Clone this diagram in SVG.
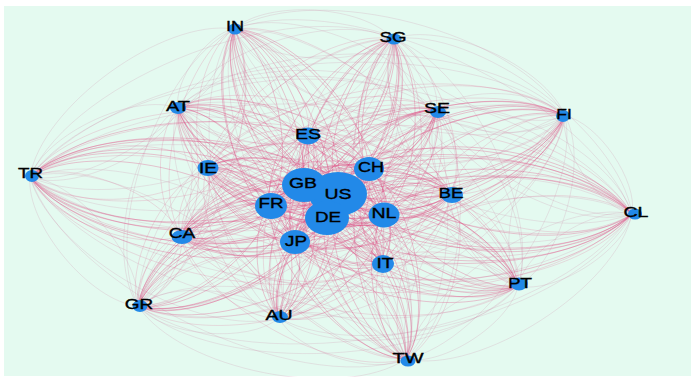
<svg xmlns="http://www.w3.org/2000/svg" width="691" height="377" viewBox="0 0 691 377">
<style>
.bg{fill:#e4faf0}
#edges use{fill:none}
.a{stroke:#e0467f;stroke-opacity:.42;stroke-width:.75}
.b{stroke:#dc5f8f;stroke-opacity:.36;stroke-width:.6}
.c{stroke:#c884a4;stroke-opacity:.38;stroke-width:.55}
.n{fill:#2289e8}
.t{font-family:"Liberation Sans",Arial,sans-serif;font-size:14px;fill:#000;stroke:#000;stroke-width:.35;text-anchor:middle}
</style>
<defs>
<path id="c" d="M0,0C.2,.2 .8,.2 1,0" fill="none" vector-effect="non-scaling-stroke"/>
<path id="r" d="M0,0C.2,-.2 .8,-.2 1,0" fill="none" vector-effect="non-scaling-stroke"/>
</defs>
<rect width="691" height="377" fill="#fff"/>
<rect class="bg" x="4" y="6" width="687" height="370"/>
<g id="edges">
<use href="#c" class="a" transform="matrix(248,-1,1,248,384,215)"/>
<use href="#c" class="c" transform="matrix(114,-72,72,114,518,286)"/>
<use href="#c" class="b" transform="matrix(250,-49,49,250,382,263)"/>
<use href="#c" class="c" transform="matrix(226,-145,145,226,406,359)"/>
<use href="#c" class="a" transform="matrix(306,-2,2,306,326,216)"/>
<use href="#c" class="c" transform="matrix(353,-104,104,353,279,318)"/>
<use href="#c" class="a" transform="matrix(338,-28,28,338,294,242)"/>
<use href="#c" class="c" transform="matrix(494,-92,92,494,138,306)"/>
<use href="#c" class="b" transform="matrix(451,-21,21,451,181,235)"/>
<use href="#c" class="a" transform="matrix(362,10,-10,362,270,204)"/>
<use href="#c" class="c" transform="matrix(-602,-37,37,-602,632,214)"/>
<use href="#c" class="b" transform="matrix(-425,-46,46,-425,632,214)"/>
<use href="#c" class="c" transform="matrix(-454,-106,106,-454,632,214)"/>
<use href="#c" class="a" transform="matrix(-327,-30,30,-327,632,214)"/>
<use href="#c" class="c" transform="matrix(-398,-185,185,-398,632,214)"/>
<use href="#c" class="b" transform="matrix(-324,-80,80,-324,632,214)"/>
<use href="#c" class="c" transform="matrix(-239,-175,175,-239,632,214)"/>
<use href="#c" class="a" transform="matrix(-294,-22,22,-294,632,214)"/>
<use href="#c" class="c" transform="matrix(-196,-104,104,-196,632,214)"/>
<use href="#c" class="a" transform="matrix(-264,-46,46,-264,632,214)"/>
<use href="#c" class="c" transform="matrix(-67,-98,98,-67,632,214)"/>
<use href="#c" class="b" transform="matrix(-181,-21,21,-181,632,214)"/>
<use href="#c" class="a" transform="matrix(-134,-71,71,-134,518,286)"/>
<use href="#c" class="a" transform="matrix(2,-48,48,2,382,263)"/>
<use href="#c" class="a" transform="matrix(-22,-144,144,-22,406,359)"/>
<use href="#c" class="a" transform="matrix(58,-1,1,58,326,216)"/>
<use href="#c" class="a" transform="matrix(105,-103,103,105,279,318)"/>
<use href="#c" class="a" transform="matrix(90,-27,27,90,294,242)"/>
<use href="#c" class="a" transform="matrix(246,-91,91,246,138,306)"/>
<use href="#c" class="a" transform="matrix(203,-20,20,203,181,235)"/>
<use href="#c" class="a" transform="matrix(114,11,-11,114,270,204)"/>
<use href="#c" class="a" transform="matrix(354,38,-38,354,30,177)"/>
<use href="#c" class="a" transform="matrix(177,47,-47,177,207,168)"/>
<use href="#c" class="a" transform="matrix(-206,-107,107,-206,384,215)"/>
<use href="#c" class="a" transform="matrix(-79,-31,31,-79,384,215)"/>
<use href="#c" class="a" transform="matrix(-150,-186,186,-150,384,215)"/>
<use href="#c" class="a" transform="matrix(-76,-81,81,-76,384,215)"/>
<use href="#c" class="a" transform="matrix(9,-176,176,9,384,215)"/>
<use href="#c" class="a" transform="matrix(-46,-23,23,-46,384,215)"/>
<use href="#c" class="a" transform="matrix(52,-105,105,52,384,215)"/>
<use href="#c" class="a" transform="matrix(-16,-47,47,-16,384,215)"/>
<use href="#c" class="a" transform="matrix(181,-99,99,181,384,215)"/>
<use href="#c" class="a" transform="matrix(67,-22,22,67,384,215)"/>
<use href="#c" class="b" transform="matrix(136,23,-23,136,382,263)"/>
<use href="#c" class="c" transform="matrix(112,-73,73,112,406,359)"/>
<use href="#c" class="a" transform="matrix(192,70,-70,192,326,216)"/>
<use href="#c" class="c" transform="matrix(239,-32,32,239,279,318)"/>
<use href="#c" class="a" transform="matrix(224,44,-44,224,294,242)"/>
<use href="#c" class="c" transform="matrix(380,-20,20,380,138,306)"/>
<use href="#c" class="b" transform="matrix(337,51,-51,337,181,235)"/>
<use href="#c" class="a" transform="matrix(248,82,-82,248,270,204)"/>
<use href="#c" class="c" transform="matrix(488,109,-109,488,30,177)"/>
<use href="#c" class="b" transform="matrix(311,118,-118,311,207,168)"/>
<use href="#c" class="c" transform="matrix(-340,-178,178,-340,518,286)"/>
<use href="#c" class="a" transform="matrix(-213,-102,102,-213,518,286)"/>
<use href="#c" class="c" transform="matrix(-284,-257,257,-284,518,286)"/>
<use href="#c" class="b" transform="matrix(-210,-152,152,-210,518,286)"/>
<use href="#c" class="c" transform="matrix(-125,-247,247,-125,518,286)"/>
<use href="#c" class="a" transform="matrix(-180,-94,94,-180,518,286)"/>
<use href="#c" class="c" transform="matrix(-82,-176,176,-82,518,286)"/>
<use href="#c" class="a" transform="matrix(-150,-118,118,-150,518,286)"/>
<use href="#c" class="c" transform="matrix(47,-170,170,47,518,286)"/>
<use href="#c" class="b" transform="matrix(-67,-93,93,-67,518,286)"/>
<use href="#c" class="b" transform="matrix(-24,-96,96,-24,406,359)"/>
<use href="#c" class="a" transform="matrix(56,47,-47,56,326,216)"/>
<use href="#c" class="b" transform="matrix(103,-55,55,103,279,318)"/>
<use href="#c" class="a" transform="matrix(88,21,-21,88,294,242)"/>
<use href="#c" class="b" transform="matrix(244,-43,43,244,138,306)"/>
<use href="#c" class="b" transform="matrix(201,28,-28,201,181,235)"/>
<use href="#c" class="a" transform="matrix(112,59,-59,112,270,204)"/>
<use href="#c" class="b" transform="matrix(352,86,-86,352,30,177)"/>
<use href="#c" class="b" transform="matrix(175,95,-95,175,207,168)"/>
<use href="#c" class="b" transform="matrix(204,155,-155,204,178,108)"/>
<use href="#c" class="a" transform="matrix(77,79,-79,77,305,184)"/>
<use href="#c" class="b" transform="matrix(-148,-234,234,-148,382,263)"/>
<use href="#c" class="b" transform="matrix(-74,-129,129,-74,382,263)"/>
<use href="#c" class="b" transform="matrix(11,-224,224,11,382,263)"/>
<use href="#c" class="a" transform="matrix(-44,-71,71,-44,382,263)"/>
<use href="#c" class="b" transform="matrix(54,-153,153,54,382,263)"/>
<use href="#c" class="a" transform="matrix(-14,-95,95,-14,382,263)"/>
<use href="#c" class="b" transform="matrix(183,-147,147,183,382,263)"/>
<use href="#c" class="b" transform="matrix(69,-70,70,69,382,263)"/>
<use href="#c" class="a" transform="matrix(80,143,-143,80,326,216)"/>
<use href="#c" class="c" transform="matrix(127,41,-41,127,279,318)"/>
<use href="#c" class="a" transform="matrix(112,117,-117,112,294,242)"/>
<use href="#c" class="c" transform="matrix(268,53,-53,268,138,306)"/>
<use href="#c" class="b" transform="matrix(225,124,-124,225,181,235)"/>
<use href="#c" class="a" transform="matrix(136,155,-155,136,270,204)"/>
<use href="#c" class="c" transform="matrix(376,182,-182,376,30,177)"/>
<use href="#c" class="b" transform="matrix(199,191,-191,199,207,168)"/>
<use href="#c" class="c" transform="matrix(228,251,-251,228,178,108)"/>
<use href="#c" class="a" transform="matrix(101,175,-175,101,305,184)"/>
<use href="#c" class="c" transform="matrix(172,330,-330,172,234,29)"/>
<use href="#c" class="b" transform="matrix(-98,-225,225,-98,406,359)"/>
<use href="#c" class="c" transform="matrix(-13,-320,320,-13,406,359)"/>
<use href="#c" class="a" transform="matrix(-68,-167,167,-68,406,359)"/>
<use href="#c" class="c" transform="matrix(30,-249,249,30,406,359)"/>
<use href="#c" class="a" transform="matrix(-38,-191,191,-38,406,359)"/>
<use href="#c" class="c" transform="matrix(159,-243,243,159,406,359)"/>
<use href="#c" class="b" transform="matrix(45,-166,166,45,406,359)"/>
<use href="#c" class="a" transform="matrix(47,-102,102,47,279,318)"/>
<use href="#c" class="a" transform="matrix(32,-26,26,32,294,242)"/>
<use href="#c" class="a" transform="matrix(188,-90,90,188,138,306)"/>
<use href="#c" class="a" transform="matrix(145,-19,19,145,181,235)"/>
<use href="#c" class="a" transform="matrix(56,12,-12,56,270,204)"/>
<use href="#c" class="a" transform="matrix(296,39,-39,296,30,177)"/>
<use href="#c" class="a" transform="matrix(119,48,-48,119,207,168)"/>
<use href="#c" class="a" transform="matrix(148,108,-108,148,178,108)"/>
<use href="#c" class="a" transform="matrix(21,32,-32,21,305,184)"/>
<use href="#c" class="a" transform="matrix(92,187,-187,92,234,29)"/>
<use href="#c" class="a" transform="matrix(18,82,-82,18,308,134)"/>
<use href="#c" class="a" transform="matrix(67,-177,177,67,326,216)"/>
<use href="#c" class="a" transform="matrix(12,-24,24,12,326,216)"/>
<use href="#c" class="a" transform="matrix(110,-106,106,110,326,216)"/>
<use href="#c" class="a" transform="matrix(42,-48,48,42,326,216)"/>
<use href="#c" class="a" transform="matrix(239,-100,100,239,326,216)"/>
<use href="#c" class="a" transform="matrix(125,-23,23,125,326,216)"/>
<use href="#c" class="a" transform="matrix(-15,76,-76,-15,294,242)"/>
<use href="#c" class="c" transform="matrix(141,12,-12,141,138,306)"/>
<use href="#c" class="b" transform="matrix(98,83,-83,98,181,235)"/>
<use href="#c" class="a" transform="matrix(9,114,-114,9,270,204)"/>
<use href="#c" class="c" transform="matrix(249,141,-141,249,30,177)"/>
<use href="#c" class="b" transform="matrix(72,150,-150,72,207,168)"/>
<use href="#c" class="c" transform="matrix(101,210,-210,101,178,108)"/>
<use href="#c" class="a" transform="matrix(-26,134,-134,-26,305,184)"/>
<use href="#c" class="c" transform="matrix(45,289,-289,45,234,29)"/>
<use href="#c" class="b" transform="matrix(-29,184,-184,-29,308,134)"/>
<use href="#c" class="c" transform="matrix(-114,279,-279,-114,393,39)"/>
<use href="#c" class="a" transform="matrix(59,-126,126,59,279,318)"/>
<use href="#c" class="c" transform="matrix(157,-208,208,157,279,318)"/>
<use href="#c" class="a" transform="matrix(89,-150,150,89,279,318)"/>
<use href="#c" class="c" transform="matrix(286,-202,202,286,279,318)"/>
<use href="#c" class="b" transform="matrix(172,-125,125,172,279,318)"/>
<use href="#c" class="a" transform="matrix(156,-64,64,156,138,306)"/>
<use href="#c" class="a" transform="matrix(113,7,-7,113,181,235)"/>
<use href="#c" class="a" transform="matrix(24,38,-38,24,270,204)"/>
<use href="#c" class="a" transform="matrix(264,65,-65,264,30,177)"/>
<use href="#c" class="a" transform="matrix(87,74,-74,87,207,168)"/>
<use href="#c" class="a" transform="matrix(116,134,-134,116,178,108)"/>
<use href="#c" class="a" transform="matrix(-11,58,-58,-11,305,184)"/>
<use href="#c" class="a" transform="matrix(60,213,-213,60,234,29)"/>
<use href="#c" class="a" transform="matrix(-14,108,-108,-14,308,134)"/>
<use href="#c" class="a" transform="matrix(-99,203,-203,-99,393,39)"/>
<use href="#c" class="a" transform="matrix(44,-50,50,44,294,242)"/>
<use href="#c" class="a" transform="matrix(142,-132,132,142,294,242)"/>
<use href="#c" class="a" transform="matrix(74,-74,74,74,294,242)"/>
<use href="#c" class="a" transform="matrix(271,-126,126,271,294,242)"/>
<use href="#c" class="a" transform="matrix(157,-49,49,157,294,242)"/>
<use href="#c" class="b" transform="matrix(-43,71,-71,-43,181,235)"/>
<use href="#c" class="a" transform="matrix(-132,102,-102,-132,270,204)"/>
<use href="#c" class="c" transform="matrix(108,129,-129,108,30,177)"/>
<use href="#c" class="b" transform="matrix(-69,138,-138,-69,207,168)"/>
<use href="#c" class="c" transform="matrix(-40,198,-198,-40,178,108)"/>
<use href="#c" class="a" transform="matrix(-167,122,-122,-167,305,184)"/>
<use href="#c" class="c" transform="matrix(-96,277,-277,-96,234,29)"/>
<use href="#c" class="b" transform="matrix(-170,172,-172,-170,308,134)"/>
<use href="#c" class="c" transform="matrix(-255,267,-267,-255,393,39)"/>
<use href="#c" class="a" transform="matrix(-200,114,-114,-200,338,192)"/>
<use href="#c" class="c" transform="matrix(-298,196,-196,-298,436,110)"/>
<use href="#c" class="a" transform="matrix(-230,138,-138,-230,368,168)"/>
<use href="#c" class="c" transform="matrix(427,-190,190,427,138,306)"/>
<use href="#c" class="b" transform="matrix(313,-113,113,313,138,306)"/>
<use href="#c" class="a" transform="matrix(-89,31,-31,-89,270,204)"/>
<use href="#c" class="b" transform="matrix(151,58,-58,151,30,177)"/>
<use href="#c" class="b" transform="matrix(-26,67,-67,-26,207,168)"/>
<use href="#c" class="b" transform="matrix(3,127,-127,3,178,108)"/>
<use href="#c" class="a" transform="matrix(-124,51,-51,-124,305,184)"/>
<use href="#c" class="b" transform="matrix(-53,206,-206,-53,234,29)"/>
<use href="#c" class="b" transform="matrix(-127,101,-101,-127,308,134)"/>
<use href="#c" class="b" transform="matrix(-212,196,-196,-212,393,39)"/>
<use href="#c" class="a" transform="matrix(-157,43,-43,-157,338,192)"/>
<use href="#c" class="b" transform="matrix(-255,125,-125,-255,436,110)"/>
<use href="#c" class="a" transform="matrix(-187,67,-67,-187,368,168)"/>
<use href="#c" class="b" transform="matrix(-384,119,-119,-384,565,116)"/>
<use href="#c" class="b" transform="matrix(270,-42,42,270,181,235)"/>
<use href="#c" class="a" transform="matrix(240,27,-27,240,30,177)"/>
<use href="#c" class="a" transform="matrix(63,36,-36,63,207,168)"/>
<use href="#c" class="a" transform="matrix(92,96,-96,92,178,108)"/>
<use href="#c" class="a" transform="matrix(-35,20,-20,-35,305,184)"/>
<use href="#c" class="a" transform="matrix(36,175,-175,36,234,29)"/>
<use href="#c" class="a" transform="matrix(-38,70,-70,-38,308,134)"/>
<use href="#c" class="a" transform="matrix(-123,165,-165,-123,393,39)"/>
<use href="#c" class="a" transform="matrix(-68,12,-12,-68,338,192)"/>
<use href="#c" class="a" transform="matrix(-166,94,-94,-166,436,110)"/>
<use href="#c" class="a" transform="matrix(-98,36,-36,-98,368,168)"/>
<use href="#c" class="a" transform="matrix(-295,88,-88,-295,565,116)"/>
<use href="#c" class="a" transform="matrix(181,-11,11,181,270,204)"/>
<use href="#c" class="b" transform="matrix(-177,9,-9,-177,207,168)"/>
<use href="#c" class="c" transform="matrix(-148,69,-69,-148,178,108)"/>
<use href="#c" class="a" transform="matrix(-275,-7,7,-275,305,184)"/>
<use href="#c" class="c" transform="matrix(-204,148,-148,-204,234,29)"/>
<use href="#c" class="b" transform="matrix(-278,43,-43,-278,308,134)"/>
<use href="#c" class="c" transform="matrix(-363,138,-138,-363,393,39)"/>
<use href="#c" class="a" transform="matrix(-308,-15,15,-308,338,192)"/>
<use href="#c" class="c" transform="matrix(-406,67,-67,-406,436,110)"/>
<use href="#c" class="a" transform="matrix(-338,9,-9,-338,368,168)"/>
<use href="#c" class="c" transform="matrix(-535,61,-61,-535,565,116)"/>
<use href="#c" class="b" transform="matrix(-421,-16,16,-421,451,193)"/>
<use href="#c" class="b" transform="matrix(29,60,-60,29,178,108)"/>
<use href="#c" class="a" transform="matrix(-98,-16,16,-98,305,184)"/>
<use href="#c" class="b" transform="matrix(-27,139,-139,-27,234,29)"/>
<use href="#c" class="b" transform="matrix(-101,34,-34,-101,308,134)"/>
<use href="#c" class="b" transform="matrix(-186,129,-129,-186,393,39)"/>
<use href="#c" class="a" transform="matrix(-131,-24,24,-131,338,192)"/>
<use href="#c" class="b" transform="matrix(-229,58,-58,-229,436,110)"/>
<use href="#c" class="a" transform="matrix(-161,0,0,-161,368,168)"/>
<use href="#c" class="b" transform="matrix(-358,52,-52,-358,565,116)"/>
<use href="#c" class="b" transform="matrix(-244,-25,25,-244,451,193)"/>
<use href="#c" class="a" transform="matrix(-127,-76,76,-127,305,184)"/>
<use href="#c" class="c" transform="matrix(-56,79,-79,-56,234,29)"/>
<use href="#c" class="b" transform="matrix(-130,-26,26,-130,308,134)"/>
<use href="#c" class="c" transform="matrix(-215,69,-69,-215,393,39)"/>
<use href="#c" class="a" transform="matrix(-160,-84,84,-160,338,192)"/>
<use href="#c" class="c" transform="matrix(-258,-2,2,-258,436,110)"/>
<use href="#c" class="a" transform="matrix(-190,-60,60,-190,368,168)"/>
<use href="#c" class="c" transform="matrix(-387,-8,8,-387,565,116)"/>
<use href="#c" class="b" transform="matrix(-273,-85,85,-273,451,193)"/>
<use href="#c" class="a" transform="matrix(71,155,-155,71,234,29)"/>
<use href="#c" class="a" transform="matrix(-3,50,-50,-3,308,134)"/>
<use href="#c" class="a" transform="matrix(-88,145,-145,-88,393,39)"/>
<use href="#c" class="a" transform="matrix(-33,-8,8,-33,338,192)"/>
<use href="#c" class="a" transform="matrix(-131,74,-74,-131,436,110)"/>
<use href="#c" class="a" transform="matrix(-63,16,-16,-63,368,168)"/>
<use href="#c" class="a" transform="matrix(-260,68,-68,-260,565,116)"/>
<use href="#c" class="a" transform="matrix(-146,-9,9,-146,451,193)"/>
<use href="#c" class="b" transform="matrix(-74,-105,105,-74,308,134)"/>
<use href="#c" class="c" transform="matrix(-159,-10,10,-159,393,39)"/>
<use href="#c" class="a" transform="matrix(-104,-163,163,-104,338,192)"/>
<use href="#c" class="c" transform="matrix(-202,-81,81,-202,436,110)"/>
<use href="#c" class="a" transform="matrix(-134,-139,139,-134,368,168)"/>
<use href="#c" class="c" transform="matrix(-331,-87,87,-331,565,116)"/>
<use href="#c" class="b" transform="matrix(-217,-164,164,-217,451,193)"/>
<use href="#c" class="b" transform="matrix(-85,95,-95,-85,393,39)"/>
<use href="#c" class="a" transform="matrix(-30,-58,58,-30,338,192)"/>
<use href="#c" class="b" transform="matrix(-128,24,-24,-128,436,110)"/>
<use href="#c" class="a" transform="matrix(-60,-34,34,-60,368,168)"/>
<use href="#c" class="b" transform="matrix(-257,18,-18,-257,565,116)"/>
<use href="#c" class="b" transform="matrix(-143,-59,59,-143,451,193)"/>
<use href="#c" class="a" transform="matrix(55,-153,153,55,338,192)"/>
<use href="#c" class="c" transform="matrix(-43,-71,71,-43,436,110)"/>
<use href="#c" class="a" transform="matrix(25,-129,129,25,368,168)"/>
<use href="#c" class="c" transform="matrix(-172,-77,77,-172,565,116)"/>
<use href="#c" class="b" transform="matrix(-58,-154,154,-58,451,193)"/>
<use href="#c" class="a" transform="matrix(-98,82,-82,-98,436,110)"/>
<use href="#c" class="a" transform="matrix(-30,24,-24,-30,368,168)"/>
<use href="#c" class="a" transform="matrix(-227,76,-76,-227,565,116)"/>
<use href="#c" class="a" transform="matrix(-113,-1,1,-113,451,193)"/>
<use href="#c" class="a" transform="matrix(68,-58,58,68,368,168)"/>
<use href="#c" class="c" transform="matrix(-129,-6,6,-129,565,116)"/>
<use href="#c" class="b" transform="matrix(-15,-83,83,-15,451,193)"/>
<use href="#c" class="a" transform="matrix(-197,52,-52,-197,565,116)"/>
<use href="#c" class="a" transform="matrix(-83,-25,25,-83,451,193)"/>
<use href="#c" class="b" transform="matrix(114,-77,77,114,451,193)"/>
<use href="#r" class="a" transform="matrix(248,-1,1,248,384,215)"/>
<use href="#r" class="c" transform="matrix(114,-72,72,114,518,286)"/>
<use href="#r" class="b" transform="matrix(250,-49,49,250,382,263)"/>
<use href="#r" class="c" transform="matrix(226,-145,145,226,406,359)"/>
<use href="#r" class="a" transform="matrix(306,-2,2,306,326,216)"/>
<use href="#r" class="c" transform="matrix(353,-104,104,353,279,318)"/>
<use href="#r" class="a" transform="matrix(338,-28,28,338,294,242)"/>
<use href="#r" class="c" transform="matrix(494,-92,92,494,138,306)"/>
<use href="#r" class="b" transform="matrix(451,-21,21,451,181,235)"/>
<use href="#r" class="a" transform="matrix(362,10,-10,362,270,204)"/>
<use href="#r" class="c" transform="matrix(-602,-37,37,-602,632,214)"/>
<use href="#r" class="b" transform="matrix(-425,-46,46,-425,632,214)"/>
<use href="#r" class="c" transform="matrix(-454,-106,106,-454,632,214)"/>
<use href="#r" class="a" transform="matrix(-327,-30,30,-327,632,214)"/>
<use href="#r" class="c" transform="matrix(-398,-185,185,-398,632,214)"/>
<use href="#r" class="b" transform="matrix(-324,-80,80,-324,632,214)"/>
<use href="#r" class="c" transform="matrix(-239,-175,175,-239,632,214)"/>
<use href="#r" class="a" transform="matrix(-294,-22,22,-294,632,214)"/>
<use href="#r" class="c" transform="matrix(-196,-104,104,-196,632,214)"/>
<use href="#r" class="a" transform="matrix(-264,-46,46,-264,632,214)"/>
<use href="#r" class="c" transform="matrix(-67,-98,98,-67,632,214)"/>
<use href="#r" class="b" transform="matrix(-181,-21,21,-181,632,214)"/>
<use href="#r" class="a" transform="matrix(-134,-71,71,-134,518,286)"/>
<use href="#r" class="a" transform="matrix(2,-48,48,2,382,263)"/>
<use href="#r" class="a" transform="matrix(-22,-144,144,-22,406,359)"/>
<use href="#r" class="a" transform="matrix(58,-1,1,58,326,216)"/>
<use href="#r" class="a" transform="matrix(105,-103,103,105,279,318)"/>
<use href="#r" class="a" transform="matrix(90,-27,27,90,294,242)"/>
<use href="#r" class="a" transform="matrix(246,-91,91,246,138,306)"/>
<use href="#r" class="a" transform="matrix(203,-20,20,203,181,235)"/>
<use href="#r" class="a" transform="matrix(114,11,-11,114,270,204)"/>
<use href="#r" class="a" transform="matrix(354,38,-38,354,30,177)"/>
<use href="#r" class="a" transform="matrix(177,47,-47,177,207,168)"/>
<use href="#r" class="a" transform="matrix(-206,-107,107,-206,384,215)"/>
<use href="#r" class="a" transform="matrix(-79,-31,31,-79,384,215)"/>
<use href="#r" class="a" transform="matrix(-150,-186,186,-150,384,215)"/>
<use href="#r" class="a" transform="matrix(-76,-81,81,-76,384,215)"/>
<use href="#r" class="a" transform="matrix(9,-176,176,9,384,215)"/>
<use href="#r" class="a" transform="matrix(-46,-23,23,-46,384,215)"/>
<use href="#r" class="a" transform="matrix(52,-105,105,52,384,215)"/>
<use href="#r" class="a" transform="matrix(-16,-47,47,-16,384,215)"/>
<use href="#r" class="a" transform="matrix(181,-99,99,181,384,215)"/>
<use href="#r" class="a" transform="matrix(67,-22,22,67,384,215)"/>
<use href="#r" class="b" transform="matrix(136,23,-23,136,382,263)"/>
<use href="#r" class="c" transform="matrix(112,-73,73,112,406,359)"/>
<use href="#r" class="a" transform="matrix(192,70,-70,192,326,216)"/>
<use href="#r" class="c" transform="matrix(239,-32,32,239,279,318)"/>
<use href="#r" class="a" transform="matrix(224,44,-44,224,294,242)"/>
<use href="#r" class="c" transform="matrix(380,-20,20,380,138,306)"/>
<use href="#r" class="b" transform="matrix(337,51,-51,337,181,235)"/>
<use href="#r" class="a" transform="matrix(248,82,-82,248,270,204)"/>
<use href="#r" class="c" transform="matrix(488,109,-109,488,30,177)"/>
<use href="#r" class="b" transform="matrix(311,118,-118,311,207,168)"/>
<use href="#r" class="c" transform="matrix(-340,-178,178,-340,518,286)"/>
<use href="#r" class="a" transform="matrix(-213,-102,102,-213,518,286)"/>
<use href="#r" class="c" transform="matrix(-284,-257,257,-284,518,286)"/>
<use href="#r" class="b" transform="matrix(-210,-152,152,-210,518,286)"/>
<use href="#r" class="c" transform="matrix(-125,-247,247,-125,518,286)"/>
<use href="#r" class="a" transform="matrix(-180,-94,94,-180,518,286)"/>
<use href="#r" class="c" transform="matrix(-82,-176,176,-82,518,286)"/>
<use href="#r" class="a" transform="matrix(-150,-118,118,-150,518,286)"/>
<use href="#r" class="c" transform="matrix(47,-170,170,47,518,286)"/>
<use href="#r" class="b" transform="matrix(-67,-93,93,-67,518,286)"/>
<use href="#r" class="b" transform="matrix(-24,-96,96,-24,406,359)"/>
<use href="#r" class="a" transform="matrix(56,47,-47,56,326,216)"/>
<use href="#r" class="b" transform="matrix(103,-55,55,103,279,318)"/>
<use href="#r" class="a" transform="matrix(88,21,-21,88,294,242)"/>
<use href="#r" class="b" transform="matrix(244,-43,43,244,138,306)"/>
<use href="#r" class="b" transform="matrix(201,28,-28,201,181,235)"/>
<use href="#r" class="a" transform="matrix(112,59,-59,112,270,204)"/>
<use href="#r" class="b" transform="matrix(352,86,-86,352,30,177)"/>
<use href="#r" class="b" transform="matrix(175,95,-95,175,207,168)"/>
<use href="#r" class="b" transform="matrix(204,155,-155,204,178,108)"/>
<use href="#r" class="a" transform="matrix(77,79,-79,77,305,184)"/>
<use href="#r" class="b" transform="matrix(-148,-234,234,-148,382,263)"/>
<use href="#r" class="b" transform="matrix(-74,-129,129,-74,382,263)"/>
<use href="#r" class="b" transform="matrix(11,-224,224,11,382,263)"/>
<use href="#r" class="a" transform="matrix(-44,-71,71,-44,382,263)"/>
<use href="#r" class="b" transform="matrix(54,-153,153,54,382,263)"/>
<use href="#r" class="a" transform="matrix(-14,-95,95,-14,382,263)"/>
<use href="#r" class="b" transform="matrix(183,-147,147,183,382,263)"/>
<use href="#r" class="b" transform="matrix(69,-70,70,69,382,263)"/>
<use href="#r" class="a" transform="matrix(80,143,-143,80,326,216)"/>
<use href="#r" class="c" transform="matrix(127,41,-41,127,279,318)"/>
<use href="#r" class="a" transform="matrix(112,117,-117,112,294,242)"/>
<use href="#r" class="c" transform="matrix(268,53,-53,268,138,306)"/>
<use href="#r" class="b" transform="matrix(225,124,-124,225,181,235)"/>
<use href="#r" class="a" transform="matrix(136,155,-155,136,270,204)"/>
<use href="#r" class="c" transform="matrix(376,182,-182,376,30,177)"/>
<use href="#r" class="b" transform="matrix(199,191,-191,199,207,168)"/>
<use href="#r" class="c" transform="matrix(228,251,-251,228,178,108)"/>
<use href="#r" class="a" transform="matrix(101,175,-175,101,305,184)"/>
<use href="#r" class="c" transform="matrix(172,330,-330,172,234,29)"/>
<use href="#r" class="b" transform="matrix(-98,-225,225,-98,406,359)"/>
<use href="#r" class="c" transform="matrix(-13,-320,320,-13,406,359)"/>
<use href="#r" class="a" transform="matrix(-68,-167,167,-68,406,359)"/>
<use href="#r" class="c" transform="matrix(30,-249,249,30,406,359)"/>
<use href="#r" class="a" transform="matrix(-38,-191,191,-38,406,359)"/>
<use href="#r" class="c" transform="matrix(159,-243,243,159,406,359)"/>
<use href="#r" class="b" transform="matrix(45,-166,166,45,406,359)"/>
<use href="#r" class="a" transform="matrix(47,-102,102,47,279,318)"/>
<use href="#r" class="a" transform="matrix(32,-26,26,32,294,242)"/>
<use href="#r" class="a" transform="matrix(188,-90,90,188,138,306)"/>
<use href="#r" class="a" transform="matrix(145,-19,19,145,181,235)"/>
<use href="#r" class="a" transform="matrix(56,12,-12,56,270,204)"/>
<use href="#r" class="a" transform="matrix(296,39,-39,296,30,177)"/>
<use href="#r" class="a" transform="matrix(119,48,-48,119,207,168)"/>
<use href="#r" class="a" transform="matrix(148,108,-108,148,178,108)"/>
<use href="#r" class="a" transform="matrix(21,32,-32,21,305,184)"/>
<use href="#r" class="a" transform="matrix(92,187,-187,92,234,29)"/>
<use href="#r" class="a" transform="matrix(18,82,-82,18,308,134)"/>
<use href="#r" class="a" transform="matrix(67,-177,177,67,326,216)"/>
<use href="#r" class="a" transform="matrix(12,-24,24,12,326,216)"/>
<use href="#r" class="a" transform="matrix(110,-106,106,110,326,216)"/>
<use href="#r" class="a" transform="matrix(42,-48,48,42,326,216)"/>
<use href="#r" class="a" transform="matrix(239,-100,100,239,326,216)"/>
<use href="#r" class="a" transform="matrix(125,-23,23,125,326,216)"/>
<use href="#r" class="a" transform="matrix(-15,76,-76,-15,294,242)"/>
<use href="#r" class="c" transform="matrix(141,12,-12,141,138,306)"/>
<use href="#r" class="b" transform="matrix(98,83,-83,98,181,235)"/>
<use href="#r" class="a" transform="matrix(9,114,-114,9,270,204)"/>
<use href="#r" class="c" transform="matrix(249,141,-141,249,30,177)"/>
<use href="#r" class="b" transform="matrix(72,150,-150,72,207,168)"/>
<use href="#r" class="c" transform="matrix(101,210,-210,101,178,108)"/>
<use href="#r" class="a" transform="matrix(-26,134,-134,-26,305,184)"/>
<use href="#r" class="c" transform="matrix(45,289,-289,45,234,29)"/>
<use href="#r" class="b" transform="matrix(-29,184,-184,-29,308,134)"/>
<use href="#r" class="c" transform="matrix(-114,279,-279,-114,393,39)"/>
<use href="#r" class="a" transform="matrix(59,-126,126,59,279,318)"/>
<use href="#r" class="c" transform="matrix(157,-208,208,157,279,318)"/>
<use href="#r" class="a" transform="matrix(89,-150,150,89,279,318)"/>
<use href="#r" class="c" transform="matrix(286,-202,202,286,279,318)"/>
<use href="#r" class="b" transform="matrix(172,-125,125,172,279,318)"/>
<use href="#r" class="a" transform="matrix(156,-64,64,156,138,306)"/>
<use href="#r" class="a" transform="matrix(113,7,-7,113,181,235)"/>
<use href="#r" class="a" transform="matrix(24,38,-38,24,270,204)"/>
<use href="#r" class="a" transform="matrix(264,65,-65,264,30,177)"/>
<use href="#r" class="a" transform="matrix(87,74,-74,87,207,168)"/>
<use href="#r" class="a" transform="matrix(116,134,-134,116,178,108)"/>
<use href="#r" class="a" transform="matrix(-11,58,-58,-11,305,184)"/>
<use href="#r" class="a" transform="matrix(60,213,-213,60,234,29)"/>
<use href="#r" class="a" transform="matrix(-14,108,-108,-14,308,134)"/>
<use href="#r" class="a" transform="matrix(-99,203,-203,-99,393,39)"/>
<use href="#r" class="a" transform="matrix(44,-50,50,44,294,242)"/>
<use href="#r" class="a" transform="matrix(142,-132,132,142,294,242)"/>
<use href="#r" class="a" transform="matrix(74,-74,74,74,294,242)"/>
<use href="#r" class="a" transform="matrix(271,-126,126,271,294,242)"/>
<use href="#r" class="a" transform="matrix(157,-49,49,157,294,242)"/>
<use href="#r" class="b" transform="matrix(-43,71,-71,-43,181,235)"/>
<use href="#r" class="a" transform="matrix(-132,102,-102,-132,270,204)"/>
<use href="#r" class="c" transform="matrix(108,129,-129,108,30,177)"/>
<use href="#r" class="b" transform="matrix(-69,138,-138,-69,207,168)"/>
<use href="#r" class="c" transform="matrix(-40,198,-198,-40,178,108)"/>
<use href="#r" class="a" transform="matrix(-167,122,-122,-167,305,184)"/>
<use href="#r" class="c" transform="matrix(-96,277,-277,-96,234,29)"/>
<use href="#r" class="b" transform="matrix(-170,172,-172,-170,308,134)"/>
<use href="#r" class="c" transform="matrix(-255,267,-267,-255,393,39)"/>
<use href="#r" class="a" transform="matrix(-200,114,-114,-200,338,192)"/>
<use href="#r" class="c" transform="matrix(-298,196,-196,-298,436,110)"/>
<use href="#r" class="a" transform="matrix(-230,138,-138,-230,368,168)"/>
<use href="#r" class="c" transform="matrix(427,-190,190,427,138,306)"/>
<use href="#r" class="b" transform="matrix(313,-113,113,313,138,306)"/>
<use href="#r" class="a" transform="matrix(-89,31,-31,-89,270,204)"/>
<use href="#r" class="b" transform="matrix(151,58,-58,151,30,177)"/>
<use href="#r" class="b" transform="matrix(-26,67,-67,-26,207,168)"/>
<use href="#r" class="b" transform="matrix(3,127,-127,3,178,108)"/>
<use href="#r" class="a" transform="matrix(-124,51,-51,-124,305,184)"/>
<use href="#r" class="b" transform="matrix(-53,206,-206,-53,234,29)"/>
<use href="#r" class="b" transform="matrix(-127,101,-101,-127,308,134)"/>
<use href="#r" class="b" transform="matrix(-212,196,-196,-212,393,39)"/>
<use href="#r" class="a" transform="matrix(-157,43,-43,-157,338,192)"/>
<use href="#r" class="b" transform="matrix(-255,125,-125,-255,436,110)"/>
<use href="#r" class="a" transform="matrix(-187,67,-67,-187,368,168)"/>
<use href="#r" class="b" transform="matrix(-384,119,-119,-384,565,116)"/>
<use href="#r" class="b" transform="matrix(270,-42,42,270,181,235)"/>
<use href="#r" class="a" transform="matrix(240,27,-27,240,30,177)"/>
<use href="#r" class="a" transform="matrix(63,36,-36,63,207,168)"/>
<use href="#r" class="a" transform="matrix(92,96,-96,92,178,108)"/>
<use href="#r" class="a" transform="matrix(-35,20,-20,-35,305,184)"/>
<use href="#r" class="a" transform="matrix(36,175,-175,36,234,29)"/>
<use href="#r" class="a" transform="matrix(-38,70,-70,-38,308,134)"/>
<use href="#r" class="a" transform="matrix(-123,165,-165,-123,393,39)"/>
<use href="#r" class="a" transform="matrix(-68,12,-12,-68,338,192)"/>
<use href="#r" class="a" transform="matrix(-166,94,-94,-166,436,110)"/>
<use href="#r" class="a" transform="matrix(-98,36,-36,-98,368,168)"/>
<use href="#r" class="a" transform="matrix(-295,88,-88,-295,565,116)"/>
<use href="#r" class="a" transform="matrix(181,-11,11,181,270,204)"/>
<use href="#r" class="b" transform="matrix(-177,9,-9,-177,207,168)"/>
<use href="#r" class="c" transform="matrix(-148,69,-69,-148,178,108)"/>
<use href="#r" class="a" transform="matrix(-275,-7,7,-275,305,184)"/>
<use href="#r" class="c" transform="matrix(-204,148,-148,-204,234,29)"/>
<use href="#r" class="b" transform="matrix(-278,43,-43,-278,308,134)"/>
<use href="#r" class="c" transform="matrix(-363,138,-138,-363,393,39)"/>
<use href="#r" class="a" transform="matrix(-308,-15,15,-308,338,192)"/>
<use href="#r" class="c" transform="matrix(-406,67,-67,-406,436,110)"/>
<use href="#r" class="a" transform="matrix(-338,9,-9,-338,368,168)"/>
<use href="#r" class="c" transform="matrix(-535,61,-61,-535,565,116)"/>
<use href="#r" class="b" transform="matrix(-421,-16,16,-421,451,193)"/>
<use href="#r" class="b" transform="matrix(29,60,-60,29,178,108)"/>
<use href="#r" class="a" transform="matrix(-98,-16,16,-98,305,184)"/>
<use href="#r" class="b" transform="matrix(-27,139,-139,-27,234,29)"/>
<use href="#r" class="b" transform="matrix(-101,34,-34,-101,308,134)"/>
<use href="#r" class="b" transform="matrix(-186,129,-129,-186,393,39)"/>
<use href="#r" class="a" transform="matrix(-131,-24,24,-131,338,192)"/>
<use href="#r" class="b" transform="matrix(-229,58,-58,-229,436,110)"/>
<use href="#r" class="a" transform="matrix(-161,0,0,-161,368,168)"/>
<use href="#r" class="b" transform="matrix(-358,52,-52,-358,565,116)"/>
<use href="#r" class="b" transform="matrix(-244,-25,25,-244,451,193)"/>
<use href="#r" class="a" transform="matrix(-127,-76,76,-127,305,184)"/>
<use href="#r" class="c" transform="matrix(-56,79,-79,-56,234,29)"/>
<use href="#r" class="b" transform="matrix(-130,-26,26,-130,308,134)"/>
<use href="#r" class="c" transform="matrix(-215,69,-69,-215,393,39)"/>
<use href="#r" class="a" transform="matrix(-160,-84,84,-160,338,192)"/>
<use href="#r" class="c" transform="matrix(-258,-2,2,-258,436,110)"/>
<use href="#r" class="a" transform="matrix(-190,-60,60,-190,368,168)"/>
<use href="#r" class="c" transform="matrix(-387,-8,8,-387,565,116)"/>
<use href="#r" class="b" transform="matrix(-273,-85,85,-273,451,193)"/>
<use href="#r" class="a" transform="matrix(71,155,-155,71,234,29)"/>
<use href="#r" class="a" transform="matrix(-3,50,-50,-3,308,134)"/>
<use href="#r" class="a" transform="matrix(-88,145,-145,-88,393,39)"/>
<use href="#r" class="a" transform="matrix(-33,-8,8,-33,338,192)"/>
<use href="#r" class="a" transform="matrix(-131,74,-74,-131,436,110)"/>
<use href="#r" class="a" transform="matrix(-63,16,-16,-63,368,168)"/>
<use href="#r" class="a" transform="matrix(-260,68,-68,-260,565,116)"/>
<use href="#r" class="a" transform="matrix(-146,-9,9,-146,451,193)"/>
<use href="#r" class="b" transform="matrix(-74,-105,105,-74,308,134)"/>
<use href="#r" class="c" transform="matrix(-159,-10,10,-159,393,39)"/>
<use href="#r" class="a" transform="matrix(-104,-163,163,-104,338,192)"/>
<use href="#r" class="c" transform="matrix(-202,-81,81,-202,436,110)"/>
<use href="#r" class="a" transform="matrix(-134,-139,139,-134,368,168)"/>
<use href="#r" class="c" transform="matrix(-331,-87,87,-331,565,116)"/>
<use href="#r" class="b" transform="matrix(-217,-164,164,-217,451,193)"/>
<use href="#r" class="b" transform="matrix(-85,95,-95,-85,393,39)"/>
<use href="#r" class="a" transform="matrix(-30,-58,58,-30,338,192)"/>
<use href="#r" class="b" transform="matrix(-128,24,-24,-128,436,110)"/>
<use href="#r" class="a" transform="matrix(-60,-34,34,-60,368,168)"/>
<use href="#r" class="b" transform="matrix(-257,18,-18,-257,565,116)"/>
<use href="#r" class="b" transform="matrix(-143,-59,59,-143,451,193)"/>
<use href="#r" class="a" transform="matrix(55,-153,153,55,338,192)"/>
<use href="#r" class="c" transform="matrix(-43,-71,71,-43,436,110)"/>
<use href="#r" class="a" transform="matrix(25,-129,129,25,368,168)"/>
<use href="#r" class="c" transform="matrix(-172,-77,77,-172,565,116)"/>
<use href="#r" class="b" transform="matrix(-58,-154,154,-58,451,193)"/>
<use href="#r" class="a" transform="matrix(-98,82,-82,-98,436,110)"/>
<use href="#r" class="a" transform="matrix(-30,24,-24,-30,368,168)"/>
<use href="#r" class="a" transform="matrix(-227,76,-76,-227,565,116)"/>
<use href="#r" class="a" transform="matrix(-113,-1,1,-113,451,193)"/>
<use href="#r" class="a" transform="matrix(68,-58,58,68,368,168)"/>
<use href="#r" class="c" transform="matrix(-129,-6,6,-129,565,116)"/>
<use href="#r" class="b" transform="matrix(-15,-83,83,-15,451,193)"/>
<use href="#r" class="a" transform="matrix(-197,52,-52,-197,565,116)"/>
<use href="#r" class="a" transform="matrix(-83,-25,25,-83,451,193)"/>
<use href="#r" class="b" transform="matrix(114,-77,77,114,451,193)"/>
</g>
<g id="node-IN"><ellipse class="n" cx="235" cy="29" rx="7" ry="5.5"/><text class="t" x="235" y="31" textLength="18" lengthAdjust="spacingAndGlyphs">IN</text></g>
<g id="node-SG"><ellipse class="n" cx="394" cy="39" rx="7.5" ry="5.5"/><text class="t" x="393" y="41.5" textLength="27" lengthAdjust="spacingAndGlyphs">SG</text></g>
<g id="node-AT"><ellipse class="n" cx="178" cy="108" rx="8" ry="6"/><text class="t" x="178" y="110.5" textLength="24" lengthAdjust="spacingAndGlyphs">AT</text></g>
<g id="node-SE"><ellipse class="n" cx="438" cy="112" rx="8" ry="6"/><text class="t" x="437" y="113" textLength="26" lengthAdjust="spacingAndGlyphs">SE</text></g>
<g id="node-FI"><ellipse class="n" cx="563" cy="116" rx="7" ry="6"/><text class="t" x="564" y="119" textLength="15.5" lengthAdjust="spacingAndGlyphs">FI</text></g>
<g id="node-TR"><ellipse class="n" cx="32" cy="176" rx="7" ry="6"/><text class="t" x="30.5" y="178" textLength="25" lengthAdjust="spacingAndGlyphs">TR</text></g>
<g id="node-CL"><ellipse class="n" cx="635" cy="214" rx="7" ry="5.5"/><text class="t" x="636" y="216.5" textLength="25" lengthAdjust="spacingAndGlyphs">CL</text></g>
<g id="node-PT"><ellipse class="n" cx="519" cy="284" rx="8.5" ry="6.5"/><text class="t" x="520" y="288" textLength="24" lengthAdjust="spacingAndGlyphs">PT</text></g>
<g id="node-GR"><ellipse class="n" cx="140" cy="306" rx="7.5" ry="6"/><text class="t" x="139" y="309" textLength="28.5" lengthAdjust="spacingAndGlyphs">GR</text></g>
<g id="node-AU"><ellipse class="n" cx="280" cy="317" rx="8" ry="6"/><text class="t" x="279" y="320" textLength="27" lengthAdjust="spacingAndGlyphs">AU</text></g>
<g id="node-TW"><ellipse class="n" cx="408" cy="361" rx="7.5" ry="5.5"/><text class="t" x="408" y="363" textLength="31" lengthAdjust="spacingAndGlyphs">TW</text></g>
<g id="node-ES"><ellipse class="n" cx="308" cy="136" rx="11.5" ry="8.5"/><text class="t" x="308" y="139" textLength="26" lengthAdjust="spacingAndGlyphs">ES</text></g>
<g id="node-IE"><ellipse class="n" cx="208" cy="168" rx="10.5" ry="8"/><text class="t" x="208" y="172.5" textLength="18" lengthAdjust="spacingAndGlyphs">IE</text></g>
<g id="node-BE"><ellipse class="n" cx="452" cy="195" rx="11" ry="8"/><text class="t" x="451" y="197.5" textLength="25" lengthAdjust="spacingAndGlyphs">BE</text></g>
<g id="node-CA"><ellipse class="n" cx="182" cy="237" rx="10.5" ry="7"/><text class="t" x="182" y="238" textLength="26.5" lengthAdjust="spacingAndGlyphs">CA</text></g>
<g id="node-IT"><ellipse class="n" cx="383" cy="264" rx="11" ry="9"/><text class="t" x="385" y="268" textLength="17" lengthAdjust="spacingAndGlyphs">IT</text></g>
<g id="node-CH"><ellipse class="n" cx="369" cy="169" rx="15" ry="12"/><text class="t" x="371" y="171.5" textLength="26" lengthAdjust="spacingAndGlyphs">CH</text></g>
<g id="node-NL"><ellipse class="n" cx="384" cy="215" rx="15.5" ry="12.5"/><text class="t" x="384" y="218" textLength="25" lengthAdjust="spacingAndGlyphs">NL</text></g>
<g id="node-FR"><ellipse class="n" cx="271" cy="206" rx="16" ry="13"/><text class="t" x="271" y="208" textLength="25" lengthAdjust="spacingAndGlyphs">FR</text></g>
<g id="node-JP"><ellipse class="n" cx="295" cy="242" rx="15" ry="12"/><text class="t" x="296" y="246" textLength="22" lengthAdjust="spacingAndGlyphs">JP</text></g>
<g id="node-US"><ellipse class="n" cx="338" cy="194" rx="29" ry="22"/><text class="t" x="338" y="199" textLength="27" lengthAdjust="spacingAndGlyphs">US</text></g>
<g id="node-GB"><ellipse class="n" cx="304" cy="185" rx="22" ry="17"/><text class="t" x="303" y="188" textLength="28" lengthAdjust="spacingAndGlyphs">GB</text></g>
<g id="node-DE"><ellipse class="n" cx="327" cy="218" rx="22" ry="17"/><text class="t" x="328" y="221.5" textLength="26" lengthAdjust="spacingAndGlyphs">DE</text></g>
</svg>
